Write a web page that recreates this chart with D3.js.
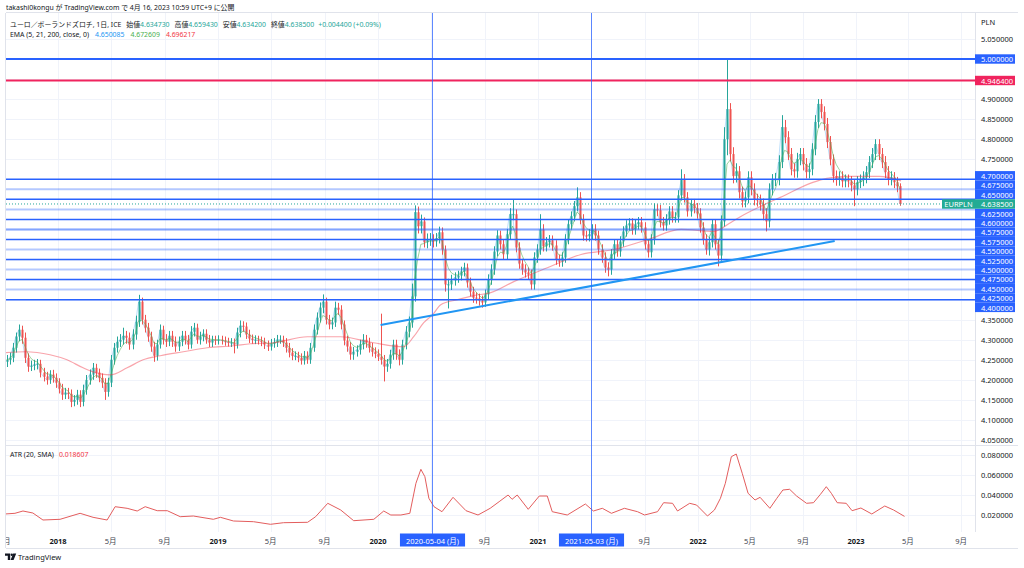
<!DOCTYPE html>
<html><head><meta charset="utf-8">
<script src="https://cdn.jsdelivr.net/npm/d3@7"></script>
<style>
body{margin:0;background:#fff;}
svg{display:block;font-family:"Noto Sans","Noto Sans CJK JP",sans-serif;}
</style></head><body><svg id="c" width="1024" height="568"></svg>
<script>
// ---------------- DATA ----------------
const barStart = "2017-09-06";          // weekly bars (one per week)
const open0 = 4.245;
const closes = [4.250,4.255,4.280,4.308,4.325,4.305,4.255,4.233,4.235,4.238,
4.240,4.218,4.208,4.200,4.213,4.205,4.193,4.178,4.163,4.168,
4.165,4.145,4.150,4.163,4.145,4.175,4.200,4.213,4.230,4.218,
4.205,4.193,4.170,4.193,4.250,4.280,4.295,4.300,4.310,4.305,
4.288,4.313,4.345,4.395,4.350,4.330,4.308,4.283,4.260,4.288,
4.325,4.300,4.295,4.310,4.295,4.283,4.295,4.310,4.300,4.288,
4.320,4.330,4.300,4.308,4.315,4.300,4.293,4.300,4.298,4.300,
4.298,4.295,4.293,4.293,4.288,4.318,4.335,4.333,4.313,4.303,
4.300,4.300,4.298,4.295,4.288,4.283,4.290,4.293,4.300,4.300,
4.293,4.280,4.268,4.260,4.260,4.255,4.248,4.260,4.250,4.280,
4.325,4.355,4.380,4.395,4.350,4.338,4.343,4.380,4.375,4.338,
4.298,4.283,4.263,4.270,4.275,4.288,4.300,4.293,4.280,4.270,
4.265,4.258,4.250,4.233,4.240,4.263,4.288,4.263,4.250,4.288,
4.320,4.343,4.408,4.618,4.583,4.595,4.543,4.550,4.550,4.545,
4.553,4.568,4.525,4.438,4.438,4.448,4.455,4.460,4.470,4.480,
4.443,4.420,4.405,4.403,4.398,4.393,4.413,4.450,4.475,4.520,
4.560,4.538,4.513,4.563,4.613,4.613,4.530,4.490,4.475,4.468,
4.463,4.438,4.505,4.525,4.575,4.533,4.543,4.548,4.535,4.500,
4.495,4.505,4.550,4.588,4.608,4.633,4.655,4.600,4.560,4.558,
4.563,4.575,4.560,4.525,4.505,4.480,4.475,4.513,4.538,4.520,
4.545,4.570,4.585,4.590,4.575,4.588,4.593,4.580,4.538,4.518,
4.550,4.625,4.623,4.593,4.585,4.600,4.620,4.605,4.605,4.660,
4.700,4.655,4.620,4.638,4.628,4.615,4.580,4.550,4.525,4.543,
4.588,4.538,4.510,4.595,4.800,4.875,4.763,4.708,4.720,4.668,
4.645,4.655,4.705,4.675,4.650,4.648,4.638,4.613,4.595,4.675,
4.698,4.700,4.743,4.830,4.805,4.763,4.725,4.720,4.750,4.763,
4.738,4.718,4.725,4.775,4.843,4.888,4.868,4.838,4.793,4.750,
4.708,4.700,4.705,4.695,4.698,4.695,4.685,4.675,4.693,4.698,
4.705,4.718,4.743,4.763,4.788,4.763,4.743,4.718,4.700,4.705,
4.693,4.683,4.6385];
const highs = [4.262,4.268,4.292,4.318,4.338,4.335,4.318,4.266,4.248,4.250,
4.252,4.250,4.230,4.220,4.224,4.225,4.216,4.204,4.190,4.180,
4.180,4.176,4.162,4.175,4.174,4.188,4.212,4.226,4.242,4.240,
4.228,4.216,4.204,4.205,4.262,4.292,4.308,4.314,4.330,4.322,
4.318,4.326,4.360,4.412,4.405,4.362,4.342,4.320,4.295,4.300,
4.338,4.335,4.314,4.322,4.322,4.308,4.308,4.322,4.322,4.312,
4.334,4.342,4.340,4.320,4.326,4.326,4.312,4.310,4.310,4.311,
4.310,4.308,4.305,4.304,4.303,4.330,4.348,4.346,4.343,4.325,
4.313,4.311,4.310,4.308,4.305,4.298,4.302,4.304,4.312,4.311,
4.310,4.304,4.292,4.279,4.271,4.270,4.266,4.272,4.271,4.292,
4.338,4.368,4.393,4.413,4.405,4.362,4.355,4.395,4.392,4.386,
4.348,4.310,4.294,4.282,4.286,4.300,4.314,4.312,4.305,4.292,
4.281,4.276,4.365,4.262,4.252,4.275,4.300,4.300,4.276,4.300,
4.334,4.358,4.440,4.635,4.632,4.612,4.605,4.565,4.566,4.563,
4.566,4.582,4.580,4.535,4.452,4.462,4.468,4.472,4.482,4.492,
4.490,4.455,4.432,4.418,4.415,4.410,4.425,4.463,4.488,4.533,
4.573,4.572,4.550,4.576,4.628,4.650,4.625,4.543,4.502,4.488,
4.480,4.475,4.518,4.538,4.613,4.588,4.556,4.561,4.560,4.548,
4.512,4.518,4.563,4.600,4.620,4.646,4.680,4.668,4.613,4.572,
4.576,4.588,4.588,4.572,4.538,4.518,4.493,4.526,4.551,4.550,
4.558,4.583,4.598,4.603,4.603,4.600,4.606,4.606,4.593,4.551,
4.563,4.640,4.638,4.636,4.606,4.613,4.633,4.633,4.618,4.673,
4.725,4.713,4.668,4.651,4.651,4.641,4.628,4.593,4.563,4.556,
4.601,4.601,4.551,4.610,4.830,4.998,4.890,4.780,4.740,4.733,
4.682,4.670,4.720,4.720,4.690,4.664,4.662,4.652,4.628,4.690,
4.713,4.716,4.760,4.860,4.848,4.820,4.778,4.740,4.766,4.778,
4.778,4.753,4.740,4.790,4.860,4.900,4.900,4.882,4.853,4.808,
4.762,4.722,4.720,4.720,4.712,4.712,4.708,4.700,4.708,4.712,
4.720,4.733,4.758,4.778,4.800,4.800,4.778,4.758,4.733,4.720,
4.718,4.706,4.690];
const lows = [4.232,4.238,4.244,4.268,4.296,4.290,4.242,4.220,4.222,4.224,
4.226,4.206,4.196,4.188,4.190,4.193,4.180,4.166,4.150,4.152,
4.152,4.132,4.134,4.138,4.132,4.134,4.163,4.188,4.200,4.205,
4.194,4.180,4.150,4.158,4.182,4.238,4.268,4.282,4.288,4.290,
4.275,4.276,4.300,4.332,4.338,4.318,4.295,4.270,4.245,4.248,
4.278,4.288,4.282,4.284,4.282,4.270,4.272,4.284,4.288,4.276,
4.278,4.308,4.290,4.288,4.296,4.290,4.282,4.282,4.287,4.288,
4.288,4.285,4.283,4.282,4.266,4.278,4.306,4.320,4.302,4.292,
4.290,4.289,4.288,4.284,4.277,4.272,4.273,4.280,4.282,4.290,
4.282,4.268,4.256,4.249,4.249,4.244,4.238,4.238,4.240,4.240,
4.270,4.313,4.343,4.366,4.338,4.326,4.326,4.332,4.362,4.326,
4.286,4.270,4.250,4.250,4.258,4.263,4.276,4.280,4.268,4.258,
4.254,4.247,4.238,4.196,4.220,4.228,4.250,4.250,4.236,4.238,
4.276,4.306,4.330,4.395,4.565,4.565,4.530,4.528,4.534,4.530,
4.532,4.540,4.512,4.420,4.378,4.424,4.435,4.442,4.448,4.458,
4.430,4.408,4.392,4.390,4.385,4.380,4.382,4.400,4.437,4.462,
4.508,4.525,4.500,4.500,4.550,4.598,4.518,4.477,4.462,4.455,
4.450,4.425,4.425,4.492,4.512,4.520,4.520,4.530,4.522,4.487,
4.482,4.482,4.492,4.538,4.575,4.595,4.620,4.588,4.547,4.545,
4.545,4.550,4.547,4.512,4.492,4.467,4.458,4.462,4.500,4.507,
4.507,4.532,4.557,4.572,4.562,4.562,4.575,4.567,4.525,4.505,
4.505,4.537,4.608,4.580,4.572,4.572,4.587,4.592,4.592,4.592,
4.647,4.642,4.607,4.607,4.615,4.602,4.567,4.537,4.512,4.510,
4.530,4.525,4.483,4.497,4.582,4.760,4.745,4.690,4.692,4.652,
4.630,4.630,4.640,4.660,4.635,4.632,4.622,4.598,4.570,4.580,
4.660,4.683,4.685,4.728,4.790,4.748,4.710,4.704,4.704,4.735,
4.722,4.702,4.702,4.710,4.760,4.828,4.852,4.822,4.778,4.735,
4.692,4.684,4.684,4.680,4.680,4.680,4.670,4.633,4.660,4.678,
4.683,4.690,4.703,4.728,4.748,4.748,4.728,4.703,4.685,4.685,
4.678,4.668,4.634];

// EMA 200 (decimal year, value)
const ema200Years = [2017.668,2017.793,2017.950,2018.056,2018.157,2018.219,2018.326,2018.432,2018.532,2018.639,
2018.783,2018.933,2019.096,2019.202,2019.346,2019.559,2019.766,2019.972,2020.160,2020.223,
2020.286,2020.342,2020.392,2020.498,2020.599,2020.705,2020.849,2021.062,2021.269,2021.475,
2021.688,2021.895,2022.101,2022.208,2022.271,2022.396,2022.521,2022.727,2022.815,2022.940,
2023.147,2023.285];
const ema200Values = [4.2675,4.270,4.2625,4.250,4.230,4.220,4.2125,4.230,4.250,4.260,
4.270,4.280,4.285,4.290,4.2925,4.3075,4.3075,4.2925,4.2825,4.3075,
4.3425,4.3625,4.3875,4.400,4.410,4.4175,4.445,4.480,4.5125,4.525,
4.550,4.575,4.570,4.5925,4.6075,4.6325,4.655,4.6925,4.7025,4.7075,
4.7075,4.6962];

// ATR (20, SMA)
const atrYears = [2017.668,2017.731,2017.781,2017.843,2017.906,2018.013,2018.138,2018.219,2018.307,2018.357,
2018.432,2018.495,2018.545,2018.620,2018.683,2018.764,2018.846,2018.971,2019.015,2019.097,
2019.222,2019.328,2019.410,2019.560,2019.610,2019.686,2019.767,2019.848,2019.974,2020.036,
2020.080,2020.143,2020.199,2020.237,2020.268,2020.293,2020.318,2020.350,2020.400,2020.469,
2020.550,2020.625,2020.701,2020.757,2020.813,2020.838,2020.870,2020.939,2021.008,2021.058,
2021.089,2021.183,2021.296,2021.346,2021.402,2021.459,2021.540,2021.622,2021.666,2021.747,
2021.785,2021.841,2021.872,2021.948,2021.991,2022.060,2022.104,2022.142,2022.173,2022.211,
2022.242,2022.280,2022.317,2022.361,2022.393,2022.455,2022.499,2022.537,2022.580,2022.624,
2022.687,2022.731,2022.775,2022.812,2022.844,2022.881,2022.938,2022.975,2023.031,2023.100,
2023.182,2023.238,2023.307];
const atrValues = [0.0210,0.0217,0.0240,0.0220,0.0150,0.0157,0.0217,0.0177,0.0150,0.0283,
0.0267,0.0240,0.0283,0.0243,0.0243,0.0183,0.0190,0.0157,0.0177,0.0140,
0.0133,0.0107,0.0123,0.0127,0.0183,0.0317,0.0250,0.0143,0.0157,0.0240,
0.0200,0.0200,0.0217,0.0517,0.0657,0.0583,0.0367,0.0283,0.0233,0.0377,
0.0243,0.0200,0.0267,0.0333,0.0400,0.0357,0.0400,0.0257,0.0390,0.0390,
0.0233,0.0200,0.0310,0.0240,0.0267,0.0217,0.0267,0.0233,0.0200,0.0233,
0.0323,0.0317,0.0240,0.0317,0.0300,0.0190,0.0250,0.0367,0.0517,0.0783,
0.0810,0.0617,0.0417,0.0350,0.0377,0.0267,0.0367,0.0450,0.0457,0.0390,
0.0317,0.0323,0.0407,0.0483,0.0417,0.0323,0.0317,0.0243,0.0270,0.0210,
0.0290,0.0250,0.0186];

const strongLevels = [5.00, 4.70, 4.65, 4.60, 4.55, 4.50, 4.45, 4.40];
const lightLevels = [4.675, 4.625, 4.575, 4.575, 4.525, 4.475, 4.425];
const redLevels = [4.9464];
const trendYears = [2020.016, 2022.865];
const trendValues = [4.337, 4.546];
const markerDates = ["2020-05-04", "2021-05-03"];
const markerLabels = ["2020-05-04 (月)", "2021-05-03 (月)"];
const priceTicks = [4.05,4.10,4.15,4.20,4.25,4.30,4.35,4.40,4.45,4.50,4.55,4.60,4.65,4.70,4.75,4.80,4.85,4.90,4.95,5.00,5.05];
const atrTicks = [0.02, 0.04, 0.06, 0.08];
const xTickDates = ["2017-09-01","2018-01-01","2018-05-01","2018-09-01","2019-01-01","2019-05-01","2019-09-01","2020-01-01","2020-05-01","2020-09-01","2021-01-01","2021-05-01","2021-09-01","2022-01-01","2022-05-01","2022-09-01","2023-01-01","2023-05-01","2023-09-01"];
const xTickLabels = ["9月","2018","5月","9月","2019","5月","9月","2020","5月","9月","2021","5月","9月","2022","5月","9月","2023","5月","9月"];
const headerPublish = "takashi0kongu が TradingView.com で 4月 16, 2023 10:59 UTC+9 に公開";
const symbolTitle = "ユーロ／ポーランドズロチ, 1日, ICE";
const ohlcNames = ["始値","高値","安値","終値"];
const ohlcValues = ["4.634730","4.659430","4.634200","4.638500"];
const changeText = "+0.004400 (+0.09%)";
const emaTitle = "EMA (5, 21, 200, close, 0)";
const emaValues = ["4.650085","4.672609","4.696217"];
const atrTitle = "ATR (20, SMA)";
const atrLast = "0.018607";
const symbolName = "EURPLN";
const currency = "PLN";

// ---------------- LAYOUT ----------------
const L = 6, R = 975, T = 13, PB = 445, AB = 532, XB = 548;
const FS = 7.5, HFS = 6.9;
const UP = "#26a69a", DN = "#ef5350", BLUE = "#2962ff", TXT = "#131722", GRID = "#f0f3fa", BORDER = "#e0e3eb";

const svg = d3.select("#c");
const parse = d3.utcParse("%Y-%m-%d");
function yd(v){const y=Math.floor(v);const s=Date.UTC(y,0,1),e=Date.UTC(y+1,0,1);return new Date(s+(v-y)*(e-s));}

const x = d3.scaleTime()
  .domain([2018,2019,2020,2021,2022,2023].map(y=>new Date(Date.UTC(y,0,1))))
  .range([58,218,378,538,698,856]);
const y = d3.scaleLinear().domain([4.05,5.00]).range([440,59]);
const ya = d3.scaleLinear().domain([0,0.08]).range([535,455]);

const bars = closes.map((c,i)=>({
  date: d3.utcDay.offset(parse(barStart), 7*i),
  o: i===0 ? open0 : closes[i-1], h: highs[i], l: lows[i], c
}));

svg.append("rect").attr("width",1024).attr("height",568).attr("fill","#fff");

const defs = svg.append("defs");
defs.append("clipPath").attr("id","cp").append("rect").attr("x",L).attr("y",T).attr("width",R-L).attr("height",PB-T);
defs.append("clipPath").attr("id","ca").append("rect").attr("x",L).attr("y",PB).attr("width",R-L).attr("height",AB-PB);
defs.append("clipPath").attr("id","cx").append("rect").attr("x",L).attr("y",AB).attr("width",R-L).attr("height",XB-AB);

// grid
const grid = svg.append("g");
xTickDates.forEach(d=>{
  const xx = Math.round(x(parse(d)))+0.5;
  if (xx>L && xx<R) grid.append("line").attr("x1",xx).attr("x2",xx).attr("y1",T).attr("y2",AB).attr("stroke",GRID);
});
priceTicks.forEach(v=>{
  const yy = Math.round(y(v))+0.5;
  if (yy>T && yy<PB) grid.append("line").attr("x1",L).attr("x2",R).attr("y1",yy).attr("y2",yy).attr("stroke",GRID);
});
atrTicks.forEach(v=>{
  const yy = Math.round(ya(v))+0.5;
  grid.append("line").attr("x1",L).attr("x2",R).attr("y1",yy).attr("y2",yy).attr("stroke",GRID);
});

// borders
const bd = svg.append("g").attr("stroke",BORDER).attr("fill","none");
bd.append("line").attr("x1",L).attr("x2",1018).attr("y1",T-0.5).attr("y2",T-0.5);
bd.append("line").attr("x1",L-0.5).attr("x2",L-0.5).attr("y1",T).attr("y2",XB);
bd.append("line").attr("x1",L).attr("x2",1018).attr("y1",PB+0.5).attr("y2",PB+0.5);
bd.append("line").attr("x1",L).attr("x2",1018).attr("y1",XB+0.5).attr("y2",XB+0.5);
bd.append("line").attr("x1",R+0.5).attr("x2",R+0.5).attr("y1",T).attr("y2",AB);

// price pane
const pp = svg.append("g").attr("clip-path","url(#cp)");

// EMA 5 / 21 on weekly bars (period in days / 5 trading days)
const a5 = 2/(5/5+1), a21 = 2/(21/5+1);
let e5 = closes[0], e21 = closes[0];
const ema5 = closes.map(c=> e5 = e5 + a5*(c-e5));
const ema21 = closes.map(c=> e21 = e21 + a21*(c-e21));
const lineP = d3.line().x((d,i)=>x(bars[i].date)).y(d=>y(d));
pp.append("path").attr("d",lineP(ema5)).attr("fill","none").attr("stroke","#2196f3").attr("stroke-opacity",0.3).attr("stroke-width",1);

// candles
const cg = pp.append("g");
bars.forEach(b=>{
  const xx = Math.round(x(b.date));
  const col = b.c >= b.o ? UP : DN;
  cg.append("line").attr("x1",xx+0.5).attr("x2",xx+0.5).attr("y1",y(b.h)).attr("y2",y(b.l)).attr("stroke",col).attr("stroke-width",1);
  const y0 = Math.min(y(b.o),y(b.c)), y1 = Math.max(y(b.o),y(b.c));
  cg.append("rect").attr("x",xx-0.5).attr("width",2).attr("y",y0).attr("height",Math.max(1,y1-y0)).attr("fill",col);
});

// EMA 21 and EMA 200
pp.append("path").attr("d",lineP(ema21)).attr("fill","none").attr("stroke","#4caf50").attr("stroke-opacity",0.55).attr("stroke-width",1);
pp.append("path").attr("d", d3.line().curve(d3.curveMonotoneX).x((d,i)=>x(yd(ema200Years[i]))).y(d=>y(d))(ema200Values))
  .attr("fill","none").attr("stroke","#f23645").attr("stroke-opacity",0.45).attr("stroke-width",1.2);

// last price dotted line
const last = closes[closes.length-1];
pp.append("line").attr("x1",L).attr("x2",R).attr("y1",y(last)).attr("y2",y(last)).attr("stroke",UP).attr("stroke-dasharray","1,2").attr("stroke-width",1);

// horizontal levels
lightLevels.forEach(v=>{
  pp.append("line").attr("x1",L).attr("x2",R).attr("y1",y(v)).attr("y2",y(v)).attr("stroke",BLUE).attr("stroke-opacity",0.35).attr("stroke-width",2);
});
strongLevels.forEach(v=>{
  pp.append("line").attr("x1",L).attr("x2",R).attr("y1",y(v)).attr("y2",y(v)).attr("stroke",BLUE).attr("stroke-width",v===5?2:1.5);
});
redLevels.forEach(v=>{
  pp.append("line").attr("x1",L).attr("x2",R).attr("y1",y(v)).attr("y2",y(v)).attr("stroke","#f0245e").attr("stroke-width",2);
});

// trend line
pp.append("line")
  .attr("x1",x(yd(trendYears[0]))).attr("y1",y(trendValues[0]))
  .attr("x2",x(yd(trendYears[1]))).attr("y2",y(trendValues[1]))
  .attr("stroke","#2196f3").attr("stroke-width",2);

// ATR pane
const ap = svg.append("g").attr("clip-path","url(#ca)");
ap.append("path").attr("d", d3.line().x((d,i)=>x(yd(atrYears[i]))).y(d=>ya(d))(atrValues))
  .attr("fill","none").attr("stroke","#e35d5d").attr("stroke-width",1);

// vertical marker lines
markerDates.forEach(d=>{
  const xx = Math.round(x(parse(d)))+0.5;
  svg.append("line").attr("x1",xx).attr("x2",xx).attr("y1",T).attr("y2",AB+2).attr("stroke",BLUE).attr("stroke-opacity",0.75).attr("stroke-width",1);
});

// price labels with stacking around last-price label
const H = 9.4;
const labs = [];
strongLevels.concat(lightLevels).forEach(v=>labs.push({v, fill:BLUE}));
redLevels.forEach(v=>labs.push({v, fill:"#f0245e"}));
const anchorY = y(last);
const above = labs.filter(d=>y(d.v)<anchorY).sort((a,b)=>y(b.v)-y(a.v));
const below = labs.filter(d=>y(d.v)>=anchorY).sort((a,b)=>y(a.v)-y(b.v));
let prev = anchorY;
above.forEach(d=>{ d.py = Math.min(y(d.v), prev-H); prev = d.py; });
prev = anchorY;
below.forEach(d=>{ d.py = Math.max(y(d.v), prev+H); prev = d.py; });
const boxYs = labs.map(d=>d.py).concat([anchorY]);

// right axis tick labels (skip those hidden under label boxes)
const ax = svg.append("g").attr("font-size",FS).attr("fill",TXT);
ax.append("text").attr("x",981).attr("y",22).attr("dominant-baseline","central").text(currency);
priceTicks.forEach(v=>{
  const yy = y(v);
  if (boxYs.some(b=>Math.abs(b-yy) < H)) return;
  ax.append("text").attr("x",981).attr("y",yy).attr("dominant-baseline","central").text(d3.format(".6f")(v));
});
atrTicks.forEach(v=>{
  ax.append("text").attr("x",981).attr("y",ya(v)).attr("dominant-baseline","central").text(d3.format(".6f")(v));
});

const lg = svg.append("g").attr("font-size",FS);
labs.forEach(d=>{
  lg.append("rect").attr("x",R).attr("y",d.py-H/2).attr("width",40).attr("height",H).attr("fill",d.fill);
  lg.append("text").attr("x",981).attr("y",d.py+0.3).attr("dominant-baseline","central").attr("fill","#fff").text(d3.format(".6f")(d.v));
});
lg.append("rect").attr("x",R).attr("y",anchorY-H/2).attr("width",40).attr("height",H).attr("fill","#22ab94");
lg.append("text").attr("x",981).attr("y",anchorY+0.3).attr("dominant-baseline","central").attr("fill","#fff").text(d3.format(".6f")(last));
lg.append("rect").attr("x",942).attr("y",anchorY-H/2).attr("width",R-942).attr("height",H).attr("fill","#22ab94");
lg.append("text").attr("x",(942+R)/2).attr("y",anchorY+0.3).attr("text-anchor","middle").attr("dominant-baseline","central").attr("fill","#fff").text(symbolName);

// x-axis labels (ticks hidden where a highlighted date sits)
const xa = svg.append("g").attr("font-size",FS).attr("fill",TXT);
const xal = xa.append("g").attr("clip-path","url(#cx)");
const markerXs = markerDates.map(d=>x(parse(d)));
xTickDates.forEach((d,i)=>{
  const xx = x(parse(d));
  if (markerXs.some(m=>Math.abs(m-xx) < 40)) return;
  const isYear = /^\d{4}$/.test(xTickLabels[i]);
  xal.append("text").attr("x",xx).attr("y",540.5).attr("text-anchor","middle").attr("dominant-baseline","central")
    .attr("font-weight",isYear?700:400).attr("fill",isYear?TXT:"#434651").text(xTickLabels[i]);
});
markerDates.forEach((d,i)=>{
  const xx = Math.round(x(parse(d)))+0.5;
  const g = xa.append("g");
  const t = g.append("text").attr("x",xx).attr("y",540.5).attr("text-anchor","middle").attr("dominant-baseline","central").attr("fill","#fff").text(markerLabels[i]);
  const w = t.node().getComputedTextLength()+12;
  g.insert("rect","text").attr("x",xx-w/2).attr("y",533.5).attr("width",w).attr("height",13).attr("fill",BLUE);
});

// headers
const hd = svg.append("g").attr("font-size",HFS).attr("fill",TXT);
hd.append("text").attr("x",6).attr("y",7).attr("dominant-baseline","central").text(headerPublish);
const t2 = hd.append("text").attr("x",10).attr("y",23.5).attr("dominant-baseline","central");
t2.append("tspan").text(symbolTitle);
ohlcNames.forEach((n,i)=>{
  t2.append("tspan").attr("dx",5).text(n);
  t2.append("tspan").attr("fill",UP).text(ohlcValues[i]);
});
t2.append("tspan").attr("dx",4).attr("fill",UP).text(changeText);
const t3 = hd.append("text").attr("x",10).attr("y",33.5).attr("dominant-baseline","central");
t3.append("tspan").text(emaTitle);
const emaCols = ["#2196f3","#4caf50","#f23645"];
emaValues.forEach((v,i)=>t3.append("tspan").attr("dx",6).attr("fill",emaCols[i]).text(v));
const t4 = hd.append("text").attr("x",10).attr("y",453.5).attr("dominant-baseline","central");
t4.append("tspan").text(atrTitle);
t4.append("tspan").attr("dx",5).attr("fill","#f23645").text(atrLast);

// TradingView logo
const logo = svg.append("g").attr("fill",TXT);
logo.append("path").attr("d","M5,553.5 h5.2 v6.5 h-2.4 v-4.2 h-2.8 z");
logo.append("circle").attr("cx",11.8).attr("cy",554.8).attr("r",1.2);
logo.append("path").attr("d","M13.2,553.5 h3 l-2.6,6.5 h-3 z");
svg.append("text").attr("x",18).attr("y",557).attr("font-size",FS).attr("fill",TXT).attr("dominant-baseline","central").text("TradingView");
</script></body></html>
